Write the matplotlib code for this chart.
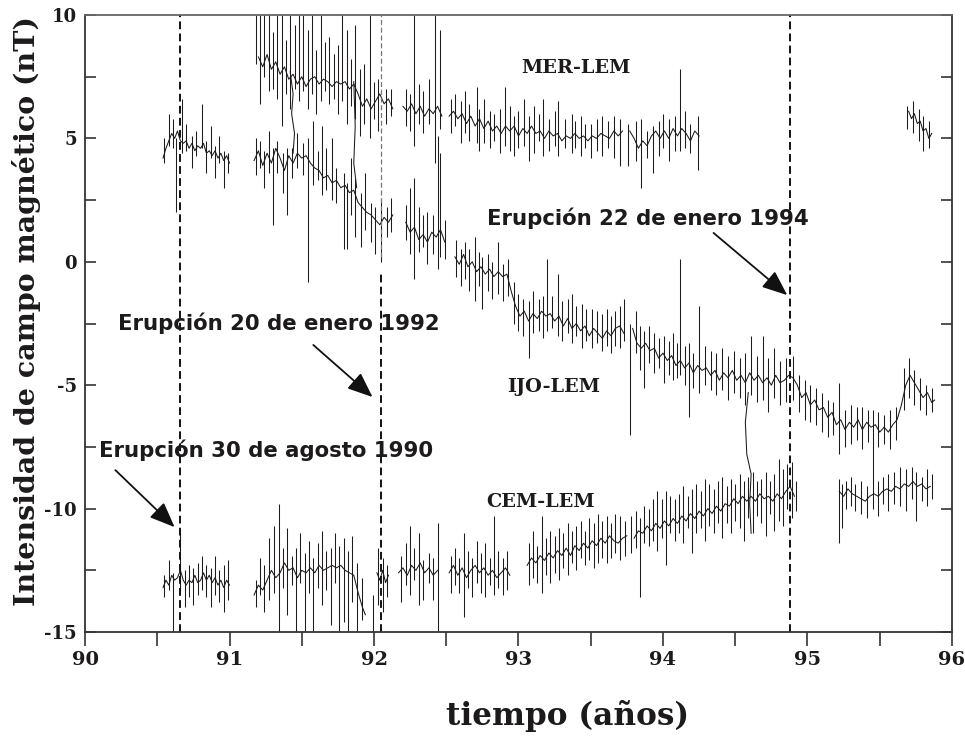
import numpy as np
import matplotlib
matplotlib.use("Agg")
import matplotlib.pyplot as plt
from matplotlib.ticker import MultipleLocator

plt.rcParams["axes.unicode_minus"] = False
nan = np.nan

# ---------------- MER-LEM ----------------
mer_year = [90.54, 90.56, 90.58, 90.60, 90.62, 90.64, 90.66, 90.68, 90.70, 90.72, 90.74, 90.76,
            90.78, 90.80, 90.82, 90.84, 90.86, 90.88, 90.90, 90.92, 90.94, 90.96, 90.98, 91.00, nan,
            91.20, 91.23, 91.26, 91.29, 91.32, 91.35, 91.38, 91.41, 91.44, 91.47, 91.50, 91.53,
            91.56, 91.59, 91.62, 91.65, 91.68, 91.71, 91.74, 91.77, 91.80, 91.83, 91.86, 91.89,
            91.92, 91.95, 91.98, 92.01, 92.04, 92.07, 92.10, 92.13, nan,
            92.20, 92.23, 92.26, 92.29, 92.32, 92.35, 92.38, 92.41, 92.44, 92.47, nan,
            92.52, 92.55, 92.58, 92.61, 92.64, 92.67, 92.70, 92.73, 92.76, 92.79, 92.82, 92.85,
            92.88, 92.91, 92.94, 92.97, 93.00, 93.03, 93.06, 93.09, 93.12, 93.15, 93.18, 93.21,
            93.24, 93.27, 93.30, 93.33, 93.36, 93.39, 93.42, 93.45, 93.48, 93.51, 93.54, 93.57,
            93.60, 93.63, 93.66, 93.69, 93.72, nan,
            93.77, 93.80, 93.83, 93.86, 93.89, 93.92, 93.95, 93.98, 94.01, 94.04, 94.07, 94.10,
            94.13, 94.16, 94.19, 94.22, 94.25, nan,
            95.70, 95.72, 95.74, 95.76, 95.78, 95.80, 95.82, 95.84, 95.86]
mer_nt = [4.2, 4.6, 4.9, 5.2, 5.0, 5.3, 4.9, 4.8, 4.9, 4.6, 4.8, 4.5,
          4.7, 4.6, 4.8, 4.4, 4.5, 4.3, 4.5, 4.2, 4.4, 4.1, 4.3, 4.0, nan,
          8.3, 7.9, 8.4, 7.8, 8.1, 7.6, 7.9, 7.4, 7.6, 7.2, 7.5, 7.1,
          7.4, 7.5, 7.2, 7.4, 7.3, 7.1, 7.3, 7.2, 7.3, 7.0, 7.2, 6.8,
          6.3, 6.6, 6.2, 6.5, 6.8, 6.4, 6.6, 6.2, nan,
          6.3, 6.1, 6.4, 6.0, 6.3, 5.9, 6.2, 6.0, 6.3, 5.9, nan,
          5.9, 6.1, 5.8, 6.0, 5.6, 5.9, 5.5, 5.8, 5.4, 5.7, 5.3, 5.5,
          5.2, 5.5, 5.3, 5.5, 5.1, 5.4, 5.2, 5.5, 5.2, 5.3, 5.0, 5.3,
          5.1, 5.2, 4.9, 5.1, 5.0, 5.2, 5.0, 5.1, 4.9, 5.1, 5.0, 5.2,
          5.1, 5.0, 5.3, 5.1, 5.3, nan,
          5.3, 5.0, 4.6, 4.9, 4.7, 5.1, 5.3, 5.0, 5.3, 5.0, 5.4, 5.1,
          5.4, 5.2, 4.9, 5.3, 5.1, nan,
          6.1, 5.8, 6.0, 5.6, 5.7, 5.3, 5.4, 5.0, 5.2]

mer_spike_year = [90.55, 90.58, 90.61, 90.63, 90.67, 90.70, 90.74, 90.77, 90.81, 90.84, 90.87,
                  90.90, 90.93, 90.96, 90.99,
                  91.18, 91.21, 91.24, 91.27, 91.30, 91.33, 91.36, 91.39, 91.42, 91.45, 91.48,
                  91.51, 91.54, 91.57, 91.60, 91.63, 91.66, 91.69, 91.72, 91.75, 91.78, 91.81,
                  91.84, 91.87, 91.90, 91.93, 91.97, 92.00, 92.03, 92.08, 92.12,
                  92.22, 92.25, 92.28, 92.31, 92.34, 92.38, 92.42, 92.46, 92.53, 92.56, 92.60,
                  92.63, 92.66, 92.71, 92.73, 92.76, 92.80, 92.83, 92.87, 92.91, 92.94, 92.97,
                  93.00, 93.04, 93.07, 93.11, 93.14, 93.17, 93.21, 93.25, 93.27, 93.32, 93.37,
                  93.39, 93.43, 93.46, 93.50, 93.54, 93.58, 93.62, 93.66, 93.70, 93.76, 93.81,
                  93.85, 93.89, 93.93, 93.97, 94.00, 94.04, 94.08, 94.12, 94.15, 94.19, 94.24,
                  95.69, 95.73, 95.77, 95.80, 95.84]
mer_spike_low = [4.0, 4.7, 4.6, 2.0, 4.4, 4.5, 3.8, 4.3, 4.6, 3.6, 4.2,
                 3.4, 4.0, 3.0, 3.6,
                 8.0, 6.4, 7.5, 6.9, 7.0, 6.6, 5.5, 6.8, 6.2, 7.0, 6.5,
                 6.9, 6.2, 6.8, 6.0, 6.5, 6.9, 6.4, 6.6, 6.0, 6.5, 5.6,
                 6.3, 5.8, 5.1, 5.6, 5.0, 5.8, 5.3, 5.6, 5.9,
                 5.5, 5.3, 4.7, 5.6, 5.2, 5.6, 4.0, 5.4, 5.2, 5.5, 4.8,
                 5.2, 4.9, 4.8, 4.5, 4.8, 4.6, 4.9, 4.4, 4.7, 4.5, 4.3,
                 4.6, 4.7, 4.1, 4.4, 4.9, 4.3, 4.5, 4.7, 4.3, 4.6, 4.4,
                 4.6, 4.3, 4.6, 4.2, 4.5, 4.3, 4.6, 4.2, 3.9, 3.9, 4.1,
                 3.0, 4.2, 3.6, 4.3, 4.6, 4.1, 4.5, 4.5, 4.6, 4.4, 3.7,
                 5.4, 5.2, 4.9, 4.5, 4.6]
mer_spike_high = [5.0, 6.0, 5.8, 5.0, 6.6, 5.6, 5.1, 5.3, 6.4, 4.9, 5.5,
                  4.7, 5.1, 4.5, 4.4,
                  10.0, 10.0, 10.0, 10.0, 9.3, 10.0, 10.0, 9.0, 10.0, 9.6, 10.0,
                  10.0, 9.4, 10.0, 8.6, 10.0, 8.9, 9.1, 8.4, 8.8, 10.0, 9.4,
                  8.2, 9.6, 7.8, 8.0, 10.0, 7.3, 7.4, 7.0, 7.0,
                  7.0, 6.8, 10.0, 7.2, 6.9, 7.4, 10.0, 9.4, 6.6, 6.8, 6.5,
                  6.9, 6.4, 7.1, 6.2, 6.6, 6.1, 6.0, 6.2, 7.1, 6.3, 5.9,
                  6.1, 6.6, 5.9, 6.3, 6.0, 6.6, 5.8, 6.1, 6.5, 5.8, 6.0,
                  5.7, 5.9, 5.6, 5.6, 5.8, 5.9, 5.7, 5.9, 5.8, 5.6, 5.7,
                  5.8, 5.3, 5.5, 5.7, 6.0, 5.8, 5.9, 7.8, 6.1, 5.6, 5.9,
                  6.3, 6.5, 6.2, 5.9, 5.7]

# ---------------- IJO-LEM ----------------
ijo_year = [91.17, 91.20, 91.23, 91.26, 91.29, 91.32, 91.35, 91.38, 91.41, 91.44, 91.47, 91.50,
            91.53, 91.56, 91.59, 91.62, 91.65, 91.68, 91.71, 91.74, 91.77, 91.80, 91.83, 91.86,
            91.89, 91.92, 91.95, 91.98, 92.01, 92.04, 92.07, 92.10, 92.13, nan,
            92.22, 92.25, 92.28, 92.31, 92.34, 92.37, 92.40, 92.43, 92.46, 92.49, nan,
            92.56, 92.59, 92.62, 92.65, 92.68, 92.71, 92.74, 92.77, 92.80, 92.83, 92.86, 92.89,
            92.92, 92.95, 92.98, 93.01, 93.04, 93.07, 93.10, 93.13, 93.16, 93.19, 93.22, 93.25,
            93.28, 93.31, 93.34, 93.37, 93.40, 93.43, 93.46, 93.49, 93.52, 93.55, 93.58, 93.61,
            93.64, 93.67, 93.70, 93.73, nan,
            93.79, 93.82, 93.85, 93.88, 93.91, 93.94, 93.97, 94.00, 94.03, 94.06, 94.09, 94.12,
            94.15, 94.18, 94.21, 94.24, 94.27, 94.30, 94.33, 94.36, 94.39, 94.42, 94.45, 94.48,
            94.51, 94.54, 94.57, 94.60, 94.63, 94.66, 94.69, 94.72, 94.75, 94.78, 94.81, 94.84,
            94.87, 94.90, 94.93, 94.96, 94.99, 95.02, 95.05, 95.08, 95.11, 95.14, 95.17, 95.20,
            95.23, 95.26, 95.29, 95.32, 95.35, 95.38, 95.41, 95.44, 95.47, 95.50, 95.53, 95.56,
            95.59, 95.62, 95.65, 95.68, 95.71, 95.74, 95.77, 95.80, 95.83, 95.86, 95.88]
ijo_nt = [4.1, 4.5, 3.9, 4.4, 4.0, 4.6, 4.2, 3.7, 4.3, 4.0, 4.4, 4.2,
          4.3, 4.0, 3.8, 3.7, 3.4, 3.5, 3.2, 3.3, 3.0, 3.1, 2.8, 2.9,
          2.4, 2.2, 2.0, 1.9, 1.7, 1.5, 1.8, 1.6, 1.9, nan,
          1.6, 1.2, 1.4, 0.9, 1.1, 0.8, 1.2, 1.0, 1.3, 0.8, nan,
          0.2, -0.1, 0.3, -0.2, 0.0, -0.4, -0.2, -0.5, -0.3, -0.6, -0.4, -0.6,
          -0.5, -1.2, -1.8, -2.2, -2.0, -2.4, -2.1, -2.3, -2.0, -2.2, -2.1, -2.4,
          -2.2, -2.6, -2.3, -2.7, -2.5, -2.8, -2.6, -3.0, -2.7, -2.9, -3.1, -2.8,
          -3.0, -2.7, -2.6, -2.9, nan,
          -2.7, -3.3, -3.5, -3.3, -3.6, -3.5, -3.9, -3.7, -4.0, -3.8, -4.2, -4.0,
          -4.3, -4.1, -4.5, -4.2, -4.4, -4.3, -4.6, -4.4, -4.8, -4.5, -4.7, -4.4,
          -4.8, -4.6, -4.9, -4.5, -4.8, -4.6, -4.9, -4.7, -5.0, -4.6, -4.9, -4.8,
          -4.6, -4.7, -5.0, -5.5, -5.3, -5.8, -5.6, -6.0, -5.9, -6.3, -6.1, -6.6,
          -6.4, -6.8, -6.5, -6.7, -6.4, -6.8, -6.5, -6.7, -6.6, -6.9, -6.7, -6.9,
          -6.6, -6.4, -5.8, -5.0, -4.6, -4.9, -5.2, -5.5, -5.3, -5.7, -5.6]

ijo_spike_year = [91.18, 91.21, 91.24, 91.27, 91.30, 91.33, 91.37, 91.40, 91.43, 91.47, 91.51,
                  91.54, 91.58, 91.61, 91.64, 91.67, 91.71, 91.74, 91.79, 91.81, 91.84, 91.87,
                  91.91, 91.94, 91.98, 92.01, 92.05, 92.09, 92.12,
                  92.22, 92.25, 92.28, 92.31, 92.34, 92.37, 92.41, 92.44, 92.46, 92.49,
                  92.57, 92.60, 92.63, 92.66, 92.70, 92.73, 92.75, 92.79, 92.82, 92.86, 92.89,
                  92.93, 92.97, 93.00, 93.03, 93.07, 93.10, 93.14, 93.17, 93.20, 93.23, 93.27,
                  93.30, 93.34, 93.37, 93.40, 93.44, 93.47, 93.51, 93.54, 93.58, 93.61, 93.64,
                  93.67, 93.70, 93.73,
                  93.77, 93.81, 93.84, 93.87, 93.90, 93.94, 93.97, 94.01, 94.04, 94.07, 94.10,
                  94.12, 94.15, 94.18, 94.21, 94.25, 94.29, 94.33, 94.37, 94.41, 94.45, 94.49,
                  94.53, 94.57, 94.61, 94.65, 94.69, 94.73, 94.77, 94.81, 94.85, 94.90, 94.94,
                  94.98, 95.02, 95.06, 95.10, 95.14, 95.18, 95.22, 95.26, 95.30, 95.34, 95.38,
                  95.42, 95.45, 95.49, 95.53, 95.57, 95.61, 95.67, 95.70, 95.74, 95.78, 95.82,
                  95.86]
ijo_spike_low = [3.5, 3.8, 3.0, 3.6, 1.5, 3.6, 2.8, 1.9, 3.4, 3.8, 3.5,
                 -0.8, 3.1, 3.3, 2.7, 2.9, 2.5, 2.4, 0.5, 0.5, 1.9, 1.0,
                 0.6, 1.3, 0.8, 0.3, 0.0, 1.0, 1.2,
                 0.9, 0.3, -0.7, 0.4, 0.6, -0.1, 0.3, -0.3, 0.2, 0.1,
                 -0.6, -1.0, -0.7, -1.2, -1.6, -1.0, -1.9, -1.2, -1.5, -1.3, -1.6,
                 -1.4, -2.5, -2.8, -3.0, -3.9, -2.9, -2.8, -3.1, -2.8, -2.7, -3.0,
                 -3.2, -2.9, -3.3, -3.0, -3.5, -3.2, -3.5, -3.3, -3.6, -3.4, -3.7,
                 -3.4, -3.5, -3.2,
                 -7.0, -3.7, -4.4, -5.1, -4.1, -4.5, -4.3, -4.9, -4.6, -4.8, -4.7,
                 -4.6, -5.0, -6.3, -5.1, -5.3, -5.0, -5.2, -5.4, -5.2, -5.6, -5.3,
                 -5.5, -5.8, -5.4, -5.7, -5.6, -6.1, -5.5, -5.8, -5.7, -5.6, -6.1,
                 -6.4, -6.5, -6.6, -6.9, -7.1, -7.0, -7.8, -7.5, -7.4, -7.2, -7.6,
                 -7.3, -9.0, -7.5, -7.4, -7.6, -7.2, -6.0, -5.5, -5.8, -6.0, -6.2,
                 -6.1]
ijo_spike_high = [5.0, 4.9, 4.5, 5.3, 4.6, 4.9, 4.4, 4.6, 4.6, 5.2, 4.8,
                  5.0, 5.7, 4.5, 5.5, 4.6, 5.0, 3.8, 3.6, 3.2, 4.2, 3.4,
                  2.8, 3.6, 2.4, 2.2, 2.6, 2.2, 2.6,
                  2.3, 3.0, 3.4, 2.2, 1.9, 2.0, 1.9, 5.1, 4.4, 1.7,
                  0.9, 0.5, 0.8, 0.5, 1.0, 0.4, 0.2, 0.3, 0.0, 0.8, -0.1,
                  0.1, -0.8, -1.3, -1.5, -1.6, -1.2, -1.5, -1.4, 0.1, -1.4, -0.5,
                  -1.6, -1.5, -1.3, -1.8, -1.7, -1.9, -1.9, -2.0, -2.1, -1.9, -2.2,
                  -2.0, -1.8, -1.5,
                  -2.5, -2.0, -2.6, -2.8, -2.6, -2.9, -3.1, -3.0, -3.2, -2.9, -3.3,
                  0.1, -3.4, -3.3, -3.7, -1.8, -3.4, -3.6, -3.7, -3.5, -3.8, -3.6,
                  -3.9, -3.7, -3.0, -3.8, -3.0, -3.9, -3.5, -4.0, -3.9, -3.8, -4.6,
                  -4.8, -5.0, -5.1, -5.3, -5.6, -5.7, -4.9, -6.0, -5.8, -5.9, -5.9,
                  -6.0, -6.0, -6.1, -6.2, -6.0, -5.9, -4.3, -3.9, -4.4, -4.7, -5.0,
                  -5.1]

# jumps joining neighbouring traces (MER/IJO in 1991, IJO/CEM in 1994)
jump_year = [91.42, 91.44, 91.43, 91.45, 91.44, nan,
             91.86, 91.87, 91.86, 91.88, nan,
             94.59, 94.57, 94.58, 94.61, 94.60, 94.61]
jump_nt = [7.7, 6.8, 6.0, 5.2, 4.4, nan,
           7.3, 5.5, 4.0, 3.0, nan,
           -5.3, -6.5, -7.8, -8.6, -9.8, -11.0]

# ---------------- CEM-LEM ----------------
cem_year = [90.54, 90.56, 90.58, 90.60, 90.62, 90.64, 90.66, 90.68, 90.70, 90.72, 90.74, 90.76,
            90.78, 90.80, 90.82, 90.84, 90.86, 90.88, 90.90, 90.92, 90.94, 90.96, 90.98, 91.00, nan,
            91.17, 91.20, 91.23, 91.26, 91.29, 91.32, 91.35, 91.38, 91.41, 91.44, 91.47, 91.50,
            91.53, 91.56, 91.59, 91.62, 91.65, 91.68, 91.71, 91.74, 91.77, 91.80, 91.83, 91.86,
            91.89, 91.92, 91.94, nan,
            92.02, 92.04, 92.06, 92.08, 92.10, nan,
            92.17, 92.20, 92.23, 92.26, 92.29, 92.32, 92.35, 92.38, 92.41, 92.44, nan,
            92.52, 92.55, 92.58, 92.61, 92.64, 92.67, 92.70, 92.73, 92.76, 92.79, 92.82, 92.85,
            92.88, 92.91, 92.94, nan,
            93.06, 93.09, 93.12, 93.15, 93.18, 93.21, 93.24, 93.27, 93.30, 93.33, 93.36, 93.39,
            93.42, 93.45, 93.48, 93.51, 93.54, 93.57, 93.60, 93.63, 93.66, 93.69, 93.72, 93.75, nan,
            93.80, 93.83, 93.86, 93.89, 93.92, 93.95, 93.98, 94.01, 94.04, 94.07, 94.10, 94.13,
            94.16, 94.19, 94.22, 94.25, 94.28, 94.31, 94.34, 94.37, 94.40, 94.43, 94.46, 94.49,
            94.52, 94.55, 94.58, 94.61, 94.64, 94.67, 94.70, 94.73, 94.76, 94.79, 94.82, 94.85,
            94.88, 94.91, nan,
            95.22, 95.25, 95.28, 95.31, 95.34, 95.37, 95.40, 95.43, 95.46, 95.49, 95.52, 95.55,
            95.58, 95.61, 95.64, 95.67, 95.70, 95.73, 95.76, 95.79, 95.82, 95.85]
cem_nt = [-13.2, -12.9, -13.1, -12.7, -12.9, -12.8, -12.5, -12.9, -13.1, -12.9, -13.0, -12.7,
          -13.0, -12.9, -12.6, -12.9, -12.7, -13.0, -12.8, -13.1, -12.9, -13.2, -12.9, -13.1, nan,
          -13.5, -13.1, -13.3, -12.9, -12.5, -12.8, -12.6, -12.2, -12.5, -12.4, -12.8, -12.5,
          -12.6, -12.4, -12.6, -12.3, -12.5, -12.4, -12.3, -12.4, -12.3, -12.5, -12.6, -12.7,
          -13.4, -14.0, -14.3, nan,
          -12.6, -12.9, -12.5, -13.0, -12.7, nan,
          -12.6, -12.4, -12.7, -12.3, -12.5, -12.2, -12.6, -12.4, -12.7, -12.5, nan,
          -12.6, -12.3, -12.7, -12.4, -12.8, -12.5, -12.3, -12.6, -12.4, -12.7, -12.5, -12.8,
          -12.6, -12.4, -12.7, nan,
          -12.3, -12.0, -12.2, -11.9, -12.1, -11.8, -12.0, -11.7, -11.9, -11.6, -11.9, -11.5,
          -11.7, -11.4, -11.6, -11.3, -11.5, -11.2, -11.4, -11.1, -11.3, -11.4, -11.2, -11.1, nan,
          -11.2, -10.9, -11.0, -10.7, -10.9, -10.6, -10.8, -10.5, -10.7, -10.4, -10.6, -10.3,
          -10.5, -10.2, -10.4, -10.1, -10.3, -10.0, -10.2, -9.9, -10.1, -9.8, -9.9, -9.6,
          -9.8, -9.5, -9.7, -9.5, -9.7, -9.4, -9.6, -9.5, -9.7, -9.4, -9.6, -9.3,
          -9.1, -9.5, nan,
          -9.3, -9.5, -9.2, -9.4, -9.5, -9.6, -9.7, -9.5, -9.4, -9.5, -9.3, -9.2,
          -9.3, -9.1, -9.2, -9.0, -9.1, -8.9, -9.1, -9.0, -9.2, -9.1]

cem_spike_year = [90.55, 90.58, 90.61, 90.66, 90.69, 90.72, 90.75, 90.78, 90.81, 90.84, 90.87,
                  90.90, 90.93, 90.96, 90.99,
                  91.18, 91.21, 91.24, 91.27, 91.31, 91.34, 91.37, 91.40, 91.43, 91.46, 91.49,
                  91.52, 91.55, 91.58, 91.61, 91.64, 91.67, 91.70, 91.73, 91.76, 91.79, 91.82,
                  91.85, 91.88, 91.92, 91.99, 92.03, 92.06, 92.09,
                  92.19, 92.22, 92.25, 92.28, 92.31, 92.34, 92.38, 92.41, 92.44,
                  92.53, 92.56, 92.59, 92.62, 92.65, 92.68, 92.71, 92.74, 92.77, 92.80, 92.83,
                  92.86, 92.89, 92.92,
                  93.07, 93.10, 93.13, 93.16, 93.19, 93.22, 93.25, 93.28, 93.31, 93.34, 93.37,
                  93.40, 93.43, 93.46, 93.49, 93.52, 93.55, 93.58, 93.61, 93.64, 93.67, 93.70,
                  93.74, 93.78, 93.81, 93.84, 93.87, 93.90, 93.93, 93.96, 93.99, 94.02, 94.05,
                  94.08, 94.11, 94.14, 94.17, 94.20, 94.23, 94.26, 94.29, 94.32, 94.35, 94.38,
                  94.41, 94.44, 94.47, 94.50, 94.53, 94.56, 94.59, 94.62, 94.65, 94.68, 94.71,
                  94.74, 94.77, 94.80, 94.83, 94.86, 94.89, 94.92,
                  95.22, 95.24, 95.27, 95.30, 95.33, 95.37, 95.41, 95.45, 95.49, 95.52, 95.56,
                  95.60, 95.64, 95.68, 95.72, 95.75, 95.79, 95.83, 95.86]
cem_spike_low = [-13.6, -13.3, -15.0, -13.4, -14.0, -13.6, -13.9, -13.5, -13.3, -13.6, -14.0,
                 -13.5, -13.8, -14.2, -13.7,
                 -14.0, -13.5, -14.2, -13.7, -13.4, -15.0, -13.2, -14.3, -13.1, -15.0, -13.0,
                 -15.0, -13.4, -15.0, -13.2, -13.9, -13.3, -14.7, -13.0, -15.0, -14.6, -15.0,
                 -13.8, -15.0, -14.5, -15.0, -13.9, -14.2, -13.6,
                 -13.8, -13.1, -13.5, -12.9, -13.9, -13.7, -13.0, -13.7, -15.0,
                 -13.4, -13.1, -13.4, -14.4, -13.2, -13.6, -13.0, -13.4, -13.6, -13.1, -13.5,
                 -13.2, -13.5, -13.3,
                 -13.1, -12.8, -13.0, -13.4, -12.7, -13.0, -12.6, -12.9, -12.4, -12.7, -12.2,
                 -12.5, -12.0, -12.3, -12.1, -12.4, -12.2, -12.0, -12.2, -12.0, -11.8, -12.1,
                 -11.9, -11.8, -11.6, -13.6, -11.4, -11.5, -11.3, -11.7, -11.2, -12.3, -11.0,
                 -11.3, -11.0, -11.4, -10.8, -11.8, -11.0, -10.8, -11.3, -10.7, -11.0, -10.6,
                 -11.2, -10.6, -11.0, -10.5, -10.8, -11.3, -10.4, -11.0, -10.3, -10.6, -11.1,
                 -10.2, -10.9, -10.5, -10.7, -10.0, -10.4, -10.1,
                 -11.4, -10.8, -10.0, -9.9, -10.1, -10.2, -10.4, -10.0, -10.3, -9.8, -10.1,
                 -9.8, -9.9, -10.1, -9.6, -10.5, -9.7, -9.9, -9.6]
cem_spike_high = [-12.7, -12.1, -12.6, -10.8, -12.5, -12.3, -12.4, -12.2, -11.9, -12.3, -12.4,
                  -11.9, -12.5, -12.3, -12.1,
                  -12.9, -12.0, -12.3, -11.2, -10.7, -9.8, -11.6, -10.8, -11.9, -11.6, -11.0,
                  -11.8, -11.3, -12.0, -11.4, -10.9, -11.7, -11.6, -11.0, -11.5, -11.2, -11.7,
                  -11.1, -12.2, -12.8, -13.5, -11.6, -12.0, -12.3,
                  -11.9, -11.4, -10.7, -11.6, -11.0, -12.1, -11.8, -12.0, -10.6,
                  -11.9, -11.6, -12.0, -11.0, -11.7, -12.0, -11.3, -11.8, -11.4, -12.0, -10.3,
                  -11.7, -12.0, -11.7,
                  -11.4, -10.9, -11.5, -10.3, -11.2, -10.9, -11.1, -10.8, -11.0, -10.6, -10.9,
                  -10.7, -10.5, -10.9, -10.4, -10.6, -10.2, -10.5, -10.3, -10.6, -10.2, -10.3,
                  -10.5, -10.3, -10.1, -10.4, -9.9, -10.0, -9.6, -9.3, -9.6, -9.3, -9.5,
                  -9.6, -9.4, -9.1, -9.5, -9.2, -9.0, -9.3, -8.8, -9.0, -9.2, -8.9,
                  -8.7, -9.1, -8.8, -9.0, -8.6, -8.9, -8.7, -8.5, -8.9, -8.8, -8.5,
                  -8.9, -8.6, -8.0, -8.4, -8.2, -8.1, -8.9,
                  -8.8, -9.0, -8.9, -8.7, -9.0, -8.9, -9.1, -8.8, -8.9, -8.7, -8.6,
                  -8.5, -8.3, -8.4, -8.3, -8.5, -8.7, -8.4, -8.6]

# eruption dates (decimal years)
eruption_year = [90.66, 92.05, 94.88]
eruption_label = ["Erupción 30 de agosto 1990", "Erupción 20 de enero 1992",
                  "Erupción 22 de enero 1994"]

series_names = ["MER-LEM", "IJO-LEM", "CEM-LEM"]

# ---------------- figure ----------------
ink = "#1c1a1a"
fig = plt.figure(figsize=(9.65, 7.38), dpi=100)
ax = fig.add_axes([0.0881, 0.1436, 0.8984, 0.8361])
ax.set_xlim(90, 96)
ax.set_ylim(-15, 10)

lw = 0.75
ax.plot(mer_year, mer_nt, color=ink, lw=lw)
ax.vlines(mer_spike_year, mer_spike_low, mer_spike_high, color=ink, lw=lw)
ax.plot(ijo_year, ijo_nt, color=ink, lw=lw)
ax.vlines(ijo_spike_year, ijo_spike_low, ijo_spike_high, color=ink, lw=lw)
ax.plot(jump_year, jump_nt, color=ink, lw=lw)
ax.plot(cem_year, cem_nt, color=ink, lw=lw)
ax.vlines(cem_spike_year, cem_spike_low, cem_spike_high, color=ink, lw=lw)

# eruption markers
dash = (0, (4, 2.2))
ax.vlines(eruption_year[0], -15, 10, colors="#111111", linestyles=dash, lw=1.4)
ax.vlines(eruption_year[1], 0.2, 10, colors="#777777", linestyles=dash, lw=0.9)
ax.vlines(eruption_year[1], -15, -0.5, colors="#111111", linestyles=dash, lw=1.4)
ax.vlines(eruption_year[2], -15, 10, colors="#111111", linestyles=dash, lw=1.4)

sans = ["DejaVu Sans"]
serif = ["DejaVu Serif"]
arrow = dict(arrowstyle="-|>,head_length=1.1,head_width=0.45", color="#111111", lw=1.3,
             shrinkA=0, shrinkB=0, mutation_scale=14)
ax.annotate("", xy=(90.62, -10.75), xytext=(90.21, -8.44), arrowprops=arrow)
ax.annotate("", xy=(91.99, -5.48), xytext=(91.58, -3.37), arrowprops=arrow)
ax.annotate("", xy=(94.86, -1.35), xytext=(94.35, 1.17), arrowprops=arrow)

note_kw = dict(family=sans, fontsize=15.3, fontweight="bold", color=ink,
               ha="left", va="center")
ax.text(90.10, -7.63, eruption_label[0], **note_kw)
ax.text(90.23, -2.48, eruption_label[1], **note_kw)
ax.text(92.78, 1.77, eruption_label[2], **note_kw)

name_kw = dict(family=serif, fontsize=13.9, fontweight="bold", color=ink,
               ha="center", va="center")
ax.text(93.40, 7.85, series_names[0], **name_kw)
ax.text(93.24, -5.07, series_names[1], **name_kw)
ax.text(93.15, -9.73, series_names[2], **name_kw)

# axes styling
for s in ax.spines.values():
    s.set_linewidth(1.3)
    s.set_color("#333333")
ax.spines["top"].set_color("#666666")

ax.xaxis.set_minor_locator(MultipleLocator(0.5))
ax.yaxis.set_major_locator(MultipleLocator(5))
ax.yaxis.set_minor_locator(MultipleLocator(2.5))
ax.tick_params(axis="x", which="both", direction="out", length=10, width=1.2,
               color="#333333", top=False, pad=4)
ax.tick_params(axis="y", which="both", direction="in", length=8, width=1.2,
               color="#333333", right=True, pad=6)
ax.set_xticks([90, 91, 92, 93, 94, 95, 96])
ax.set_xticklabels(["90", "91", "92", "93", "94", "95", "96"])
for lab in ax.get_xticklabels():
    lab.set_family(serif)
    lab.set_fontweight("bold")
    lab.set_fontsize(14)
    lab.set_color(ink)
for lab in ax.get_yticklabels():
    lab.set_family(serif)
    lab.set_fontweight("bold")
    lab.set_fontsize(13)
    lab.set_color(ink)

fig.text(0.027, 0.578, "Intensidad de campo magnético (nT)", rotation=90, family=serif,
         fontsize=20.5, fontweight="bold", color=ink, ha="center", va="center")
fig.text(0.588, 0.03, "tiempo (años)", family=serif, fontsize=22.4, fontweight="bold",
         color=ink, ha="center", va="center")

fig.savefig("out.png", dpi=100, facecolor="white")
